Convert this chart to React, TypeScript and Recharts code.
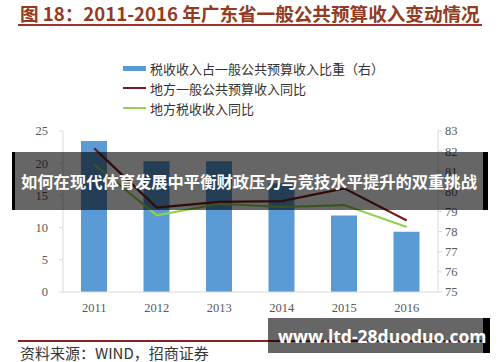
import { ComposedChart, Bar, Line, XAxis, YAxis } from "recharts";

const years = ["2011", "2012", "2013", "2014", "2015", "2016"];
const taxShare = [82.5, 81.5, 81.5, 80.4, 78.8, 78.0];
const budgetYoY = [22.3, 13.1, 14.0, 14.1, 16.1, 11.1];
const taxYoY = [19.8, 11.9, 13.7, 13.2, 13.5, 10.1];
const leftTicks = [0, 5, 10, 15, 20, 25];
const rightTicks = [75, 76, 77, 78, 79, 80, 81, 82, 83];

const seriesNames = ["税收收入占一般公共预算收入比重（右）", "地方一般公共预算收入同比", "地方税收收入同比"];
const seriesColors = ["#5B9BD5", "#7A1A1A", "#92D050"];

const data = years.map((year, i) => ({
  year,
  share: taxShare[i],
  budget: budgetYoY[i],
  tax: taxYoY[i],
}));

const tickStyle = { fontSize: 12.5, fill: "#595959" };

export default function App() {
  return (
    <div style={{ position: "absolute", left: 0, top: 0, width: 500, height: 362, background: "#fff", overflow: "hidden" }}>
      <div
        style={{
          position: "absolute",
          left: 20,
          top: 2,
          fontFamily: "'Noto Sans CJK SC', sans-serif",
          fontWeight: 700,
          fontSize: 18.6,
          color: "#933A22",
          whiteSpace: "nowrap",
          lineHeight: "22px",
        }}
      >
        图 18：2011-2016 年广东省一般公共预算收入变动情况
      </div>
      <div style={{ position: "absolute", left: 18, top: 24, width: 464, height: 2, background: "#A3302A" }} />

      {/* legend */}
      <div style={{ position: "absolute", left: 123, top: 58, fontFamily: "'Noto Sans CJK SC', sans-serif", fontSize: 13, color: "#333" }}>
        {seriesNames.map((name, i) => (
          <div key={name} style={{ display: "flex", alignItems: "center", height: 20 }}>
            <span
              style={{
                display: "inline-block",
                width: 23,
                height: i === 0 ? 5 : 2.5,
                background: seriesColors[i],
                marginRight: 4,
              }}
            />
            {name}
          </div>
        ))}
      </div>

      <div style={{ position: "absolute", left: 0, top: 0, fontFamily: "'Liberation Serif', 'DejaVu Serif', serif" }}>
        <ComposedChart width={500} height={322} data={data} margin={{ top: 131, right: 0, bottom: 0, left: 0 }}>
          <XAxis
            dataKey="year"
            tick={tickStyle}
            tickLine={false}
            axisLine={{ stroke: "#D9D9D9" }}
            tickMargin={5}
            height={30}
          />
          <YAxis
            yAxisId="left"
            domain={[0, 25]}
            ticks={leftTicks}
            width={63}
            tick={tickStyle}
            tickSize={4}
            tickMargin={11}
            axisLine={{ stroke: "#D9D9D9" }}
            tickLine={{ stroke: "#D9D9D9" }}
          />
          <YAxis
            yAxisId="right"
            orientation="right"
            domain={[75, 83]}
            ticks={rightTicks}
            width={62}
            tick={{ ...tickStyle, textAnchor: "start" }}
            tickSize={4}
            tickMargin={3}
            axisLine={{ stroke: "#D9D9D9" }}
            tickLine={{ stroke: "#D9D9D9" }}
          />
          <Bar yAxisId="right" dataKey="share" fill={seriesColors[0]} barSize={26} isAnimationActive={false} />
          <Line yAxisId="left" dataKey="budget" stroke={seriesColors[1]} strokeWidth={2.2} dot={false} type="linear" isAnimationActive={false} />
          <Line yAxisId="left" dataKey="tax" stroke={seriesColors[2]} strokeWidth={2.2} dot={false} type="linear" isAnimationActive={false} />
        </ComposedChart>
      </div>

      {/* overlay banner */}
      <div
        style={{
          position: "absolute",
          left: 12,
          top: 152,
          width: 476,
          height: 58,
          background: "rgba(0,0,0,0.6)",
          borderLeft: "3px solid #000",
          borderRight: "5px solid #000",
          boxSizing: "border-box",
          display: "flex",
          alignItems: "center",
          justifyContent: "center",
          color: "#fff",
          fontFamily: "'Noto Sans CJK SC', sans-serif",
          fontWeight: 700,
          fontSize: 16.3,
          whiteSpace: "nowrap",
        }}
      >
        如何在现代体育发展中平衡财政压力与竞技水平提升的双重挑战
      </div>

      {/* footer */}
      <div style={{ position: "absolute", left: 18, top: 340, width: 464, height: 1.5, background: "#8B2020" }} />
      <div
        style={{
          position: "absolute",
          left: 20,
          top: 344,
          fontFamily: "'Noto Sans CJK SC', sans-serif",
          fontSize: 15,
          lineHeight: "18px",
          color: "#333",
          whiteSpace: "nowrap",
        }}
      >
        资料来源：WIND，招商证券
      </div>
      <div
        style={{
          position: "absolute",
          left: 268,
          top: 318,
          width: 222,
          height: 35,
          background: "rgba(0,0,0,0.6)",
          borderRight: "7px solid #000",
          boxSizing: "border-box",
          display: "flex",
          alignItems: "center",
          paddingLeft: 10,
          color: "#fff",
          fontFamily: "'Open Sans', sans-serif",
          fontWeight: 700,
          fontSize: 17.5,
          whiteSpace: "nowrap",
        }}
      >
        www.ltd-28duoduo.com
      </div>
    </div>
  );
}
